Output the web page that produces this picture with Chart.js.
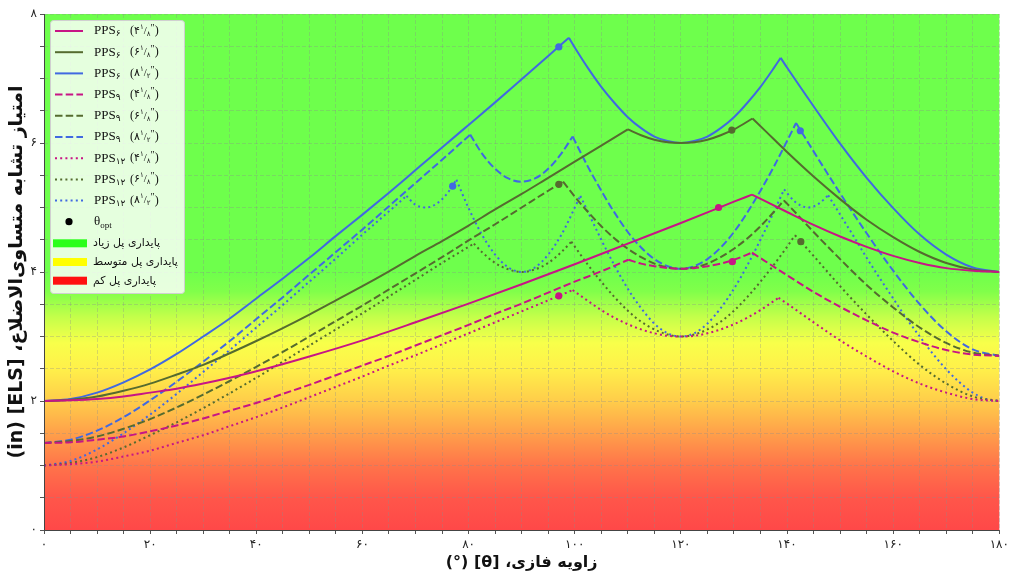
<!DOCTYPE html>
<html>
<head>
<meta charset="utf-8">
<script src="https://cdn.jsdelivr.net/npm/chart.js@4.4.0/dist/chart.umd.min.js"></script>
<style>
html,body{margin:0;padding:0;background:#fff;}
#c{display:block;}
</style>
</head>
<body>
<canvas id="c" width="1013" height="577" style="width:1013px;height:577px"></canvas>
<script>
// PPS6 (solid)
var theta6_41 = [0,5,10,15,20,25,30,35,40,50,60,70,80,90,100,110,120,130,133.4,140,145,150,155,160,165,170,175,180];
var els6_41   = [2.00,2.01,2.03,2.07,2.13,2.19,2.27,2.36,2.46,2.69,2.94,3.22,3.51,3.81,4.12,4.44,4.76,5.09,5.20,4.93,4.73,4.55,4.39,4.25,4.14,4.06,4.02,4.00];
var theta6_61 = [0,5,10,15,20,25,30,35,40,45,50,55,60,65,70,75,80,85,90,95,100,105,110,112.5,115,117.5,120,122.5,125,127.5,130,133.5,136,140,145,150,155,160,165,170,175,180];
var els6_61   = [2.00,2.02,2.07,2.16,2.27,2.41,2.56,2.74,2.93,3.13,3.34,3.56,3.78,4.01,4.25,4.48,4.72,4.97,5.21,5.46,5.71,5.96,6.21,6.12,6.05,6.01,6.00,6.01,6.05,6.12,6.21,6.38,6.18,5.86,5.48,5.13,4.81,4.54,4.31,4.14,4.04,4.00];
var theta6_81 = [0,5,10,15,20,25,30,35,40,45,50,55,60,65,70,75,80,85,90,95,98.9,100,102.5,105,107.5,110,112.5,115,117.5,120,122.5,125,127.5,130,132.5,135,137.5,138.8,140,145,150,155,160,165,170,175,180];
var els6_81   = [2.00,2.03,2.13,2.29,2.49,2.73,3.00,3.28,3.59,3.90,4.22,4.56,4.89,5.23,5.58,5.93,6.28,6.63,6.99,7.35,7.63,7.48,7.16,6.87,6.62,6.40,6.23,6.10,6.03,6.00,6.03,6.10,6.23,6.40,6.62,6.87,7.16,7.32,7.17,6.57,5.99,5.46,4.99,4.58,4.27,4.07,4.00];

// PPS9 (dashed)
var theta9_41 = [0,5,10,15,20,25,30,35,40,45,50,55,60,65,70,75,80,85,90,95,100,105,110.1,112.5,115,117.5,120,122.5,125,127.5,130,133.4,140,145,150,155,160,165,170,175,180];
var els9_41   = [1.35,1.36,1.40,1.45,1.53,1.62,1.73,1.85,1.97,2.11,2.25,2.40,2.55,2.70,2.86,3.02,3.18,3.35,3.51,3.68,3.85,4.01,4.19,4.13,4.09,4.06,4.05,4.06,4.09,4.13,4.19,4.30,3.95,3.69,3.46,3.25,3.06,2.91,2.79,2.72,2.70];
var theta9_61 = [0,5,10,15,20,25,30,35,40,45,50,55,60,65,70,75,80,85,90,95,97.8,100,102.5,105,107.5,110,112.5,115,117.5,120,122.5,125,127.5,130,132.5,135,137.5,139.4,140,145,150,155,160,165,170,175,180];
var els9_61   = [1.35,1.38,1.45,1.57,1.72,1.90,2.10,2.31,2.53,2.76,3.00,3.24,3.48,3.73,3.98,4.23,4.49,4.74,5.00,5.26,5.40,5.17,4.93,4.71,4.52,4.36,4.23,4.13,4.07,4.05,4.07,4.13,4.23,4.36,4.52,4.71,4.93,5.11,5.06,4.62,4.20,3.80,3.45,3.14,2.90,2.75,2.70];
var theta9_81 = [0,5,10,15,20,25,30,35,40,45,50,55,60,65,70,75,80.3,82.5,85,87.5,90,92.5,95,97.5,99.6,102.5,105,107.5,110,112.5,115,117.5,120,122.5,125,127.5,130,132.5,135,137.5,140,141.7,145,150,155,160,165,170,175,180];
var els9_81   = [1.35,1.40,1.54,1.75,2.01,2.30,2.61,2.93,3.27,3.61,3.96,4.31,4.66,5.02,5.38,5.74,6.13,5.84,5.60,5.45,5.40,5.45,5.60,5.84,6.10,5.63,5.26,4.92,4.62,4.38,4.20,4.09,4.05,4.09,4.20,4.38,4.62,4.92,5.26,5.63,6.03,6.31,5.87,5.22,4.60,4.02,3.50,3.08,2.80,2.70];

// PPS12 (dotted)
var theta12_41 = [0,5,10,15,20,25,30,35,40,45,50,55,60,65,70,75,80,85,90,95,99.6,102.5,105,107.5,110,112.5,115,117.5,120,122.5,125,127.5,130,132.5,135,138.4,140,145,150,155,160,165,170,175,180];
var els12_41   = [1.00,1.02,1.06,1.14,1.23,1.35,1.47,1.61,1.75,1.90,2.06,2.22,2.38,2.55,2.71,2.88,3.05,3.22,3.39,3.56,3.72,3.55,3.41,3.29,3.19,3.11,3.05,3.01,3.00,3.01,3.05,3.11,3.19,3.29,3.41,3.60,3.51,3.22,2.94,2.69,2.46,2.27,2.13,2.03,2.00];
var theta12_61 = [0,5,10,15,20,25,30,35,40,45,50,55,60,65,70,75,81,82.5,85,87.5,90,92.5,95,97.5,99.35,102.5,105,107.5,110,112.5,115,117.5,120,122.5,125,127.5,130,132.5,135,137.5,140,141.5,145,150,155,160,165,170,175,180];
var els12_61   = [1.00,1.04,1.13,1.28,1.47,1.67,1.89,2.12,2.36,2.61,2.86,3.11,3.36,3.62,3.88,4.14,4.44,4.31,4.14,4.04,4.00,4.04,4.14,4.31,4.47,4.11,3.85,3.61,3.40,3.23,3.11,3.03,3.00,3.03,3.11,3.23,3.40,3.61,3.85,4.11,4.39,4.57,4.25,3.78,3.34,2.93,2.56,2.27,2.07,2.00];
var theta12_81 = [0,5,10,15,20,25,30,35,40,45,50,55,60,65,68.3,70,72,74,76,77.7,80,82.5,85,87.5,90,92.5,95,97.5,101.05,102.5,105,107.5,110,112.5,115,117.5,120,122.5,125,127.5,130,132.5,135,137.5,139.45,141.5,144,146,147.75,150,152.5,155,157.5,160,162.5,165,167.5,170,172.5,175,177.5,180];
var els12_81   = [1.00,1.07,1.25,1.50,1.79,2.11,2.45,2.79,3.14,3.49,3.85,4.21,4.58,4.94,5.18,5.04,5.00,5.06,5.22,5.43,4.99,4.58,4.27,4.07,4.00,4.07,4.27,4.58,5.18,4.93,4.50,4.10,3.74,3.44,3.20,3.05,3.00,3.05,3.20,3.44,3.74,4.10,4.50,4.93,5.28,5.09,5.00,5.06,5.19,4.89,4.56,4.22,3.90,3.59,3.28,3.00,2.73,2.49,2.29,2.13,2.03,2.00];

// θopt نقاط بهینه (به ترتیب سری‌ها)
var optTheta = [127.1, 129.6, 97.0, 129.7, 97.0, 142.5, 97.0, 142.6, 77.0];
var optEls   = [5.00, 6.20, 7.49, 4.16, 5.36, 6.19, 3.63, 4.47, 5.33];

// محورها
var xTicks = [0,20,40,60,80,100,120,140,160,180];
var yTicks = [0,2,4,6,8];

var PINK = '#c71585', OLIVE = '#556b2f', BLUE = '#4169e1';
var DASHED = [7.5,3.2], DOTTED = [2,3.2];

var series = [
  {t: theta6_41,  v: els6_41,  c: PINK,  d: [],     n: '۶',  w: '۴', den: '۸'},
  {t: theta6_61,  v: els6_61,  c: OLIVE, d: [],     n: '۶',  w: '۶', den: '۸'},
  {t: theta6_81,  v: els6_81,  c: BLUE,  d: [],     n: '۶',  w: '۸', den: '۲'},
  {t: theta9_41,  v: els9_41,  c: PINK,  d: DASHED, n: '۹',  w: '۴', den: '۸'},
  {t: theta9_61,  v: els9_61,  c: OLIVE, d: DASHED, n: '۹',  w: '۶', den: '۸'},
  {t: theta9_81,  v: els9_81,  c: BLUE,  d: DASHED, n: '۹',  w: '۸', den: '۲'},
  {t: theta12_41, v: els12_41, c: PINK,  d: DOTTED, n: '۱۲', w: '۴', den: '۸'},
  {t: theta12_61, v: els12_61, c: OLIVE, d: DOTTED, n: '۱۲', w: '۶', den: '۸'},
  {t: theta12_81, v: els12_81, c: BLUE,  d: DOTTED, n: '۱۲', w: '۸', den: '۲'}
];

function fa(n){ return String(n).replace(/\d/g, function(d){ return '۰۱۲۳۴۵۶۷۸۹'[d]; }); }

// break each curve at its sharp peaks so the smooth parts can be drawn curved
function pieces(t, v){
  var out = [], cur = [{x: t[0], y: v[0]}];
  for (var i = 1; i < t.length; i++) {
    cur.push({x: t[i], y: v[i]});
    if (i < t.length - 1 && v[i] > v[i-1] && v[i] >= v[i+1]) {
      out.push(cur);
      cur = [{x: t[i], y: v[i]}];
    }
  }
  out.push(cur);
  return out;
}

var datasets = [];
series.forEach(function(s){
  pieces(s.t, s.v).forEach(function(p){
    datasets.push({
      label: 'PPS' + s.n,
      data: p,
      borderColor: s.c, borderWidth: 2, borderDash: s.d,
      pointRadius: 0, fill: false,
      cubicInterpolationMode: 'monotone'
    });
  });
});
datasets.push({
  label: 'θopt',
  data: optTheta.map(function(x,i){ return {x: x, y: optEls[i]}; }),
  showLine: false, pointRadius: 3.6, pointBorderWidth: 0,
  pointBackgroundColor: series.map(function(s){ return s.c; }),
  order: -1
});

// پس زمینه رنگی (قرمز - زرد - سبز)
var bgStops = [[0,'rgb(255,72,72)'],[0.5,'rgb(255,86,74)'],[1.0,'rgb(255,116,74)'],[1.5,'rgb(255,160,74)'],
  [2.0,'rgb(255,205,74)'],[2.5,'rgb(255,240,74)'],[2.9,'rgb(248,255,74)'],[3.3,'rgb(196,255,74)'],
  [3.7,'rgb(128,255,74)'],[4.0,'rgb(110,255,76)'],[8,'rgb(110,255,76)']];

var bgPlugin = {
  id: 'bg',
  beforeDraw: function(chart){
    var ctx = chart.ctx, a = chart.chartArea;
    var g = ctx.createLinearGradient(0, a.bottom, 0, a.top);
    bgStops.forEach(function(s){ g.addColorStop(s[0]/8, s[1]); });
    ctx.save();
    ctx.fillStyle = g;
    ctx.fillRect(a.left, a.top, a.right - a.left, a.bottom - a.top);
    ctx.restore();
  }
};

function labelRun(ctx, x, y, parts){
  var cx = x;
  parts.forEach(function(p){
    ctx.font = p[1] + "px 'Liberation Serif', 'DejaVu Sans'";
    ctx.fillText(p[0], cx, y + p[2]);
    cx += ctx.measureText(p[0]).width;
  });
  return cx;
}

var framePlugin = {
  id: 'frame',
  afterDraw: function(chart){
    var ctx = chart.ctx, a = chart.chartArea;
    ctx.save();
    // axis lines
    ctx.strokeStyle = '#444'; ctx.lineWidth = 1;
    ctx.beginPath();
    ctx.moveTo(a.left + 0.5, a.top); ctx.lineTo(a.left + 0.5, a.bottom + 0.5);
    ctx.lineTo(a.right, a.bottom + 0.5);
    ctx.stroke();

    // titles
    ctx.fillStyle = '#111';
    ctx.textAlign = 'center'; ctx.textBaseline = 'middle';
    ctx.direction = 'rtl';
    ctx.font = "bold 16px 'DejaVu Sans'";
    ctx.fillText('زاویه فازی، [θ] (°)', (a.left + a.right)/2, 563);
    ctx.save();
    ctx.translate(17, (a.top + a.bottom)/2);
    ctx.rotate(-Math.PI/2);
    ctx.font = "bold 19px 'DejaVu Sans'";
    ctx.fillText('امتیاز تشابه متساوی‌الاضلاع، [ELS] (in)', 0, 0);
    ctx.restore();
    ctx.direction = 'ltr';

    // legend box
    var bx = 50, by = 20, bw = 134, bh = 273;
    ctx.beginPath();
    ctx.roundRect(bx + 0.5, by + 0.5, bw, bh, 3);
    ctx.fillStyle = 'rgba(255,255,255,0.82)';
    ctx.fill();
    ctx.strokeStyle = '#d0d0d0';
    ctx.stroke();

    ctx.textAlign = 'left'; ctx.textBaseline = 'middle';
    series.forEach(function(s, i){
      var y = 31 + i*21.2;
      ctx.strokeStyle = s.c; ctx.lineWidth = 2; ctx.setLineDash(s.d);
      ctx.beginPath(); ctx.moveTo(55, y); ctx.lineTo(83, y); ctx.stroke();
      ctx.setLineDash([]);
      ctx.fillStyle = '#111';
      labelRun(ctx, 94, y, [['PPS', 13, 0], [s.n, 9, 3]]);
      labelRun(ctx, 130, y, [['(', 12, 0], [s.w, 11, 0], ['۱', 7, -4], ['/', 11, 0], [s.den, 7, 3], ['″', 10, -3], [')', 12, 0]]);
    });
    // θopt
    var yo = 221.7;
    ctx.fillStyle = '#000';
    ctx.beginPath(); ctx.arc(69, yo, 3.6, 0, Math.PI*2); ctx.fill();
    ctx.fillStyle = '#111';
    labelRun(ctx, 94, yo, [['θ', 13, 0], ['opt', 9, 4]]);

    // stability patches
    var patches = [['پایداری پل زیاد', '#2bff1a', 243.3], ['پایداری پل متوسط', '#ffff00', 262], ['پایداری پل کم', '#ff1010', 280.7]];
    ctx.font = "13px 'DejaVu Sans'";
    var fs = Math.max(9, Math.min(13.5, 13 * 85 / ctx.measureText(patches[1][0]).width));
    patches.forEach(function(p){
      ctx.fillStyle = p[1];
      ctx.fillRect(53, p[2] - 4, 34, 8);
      ctx.fillStyle = '#111';
      ctx.direction = 'rtl'; ctx.textAlign = 'left';
      ctx.font = fs + "px 'DejaVu Sans'";
      ctx.fillText(p[0], 93, p[2]);
      ctx.direction = 'ltr';
    });
    ctx.restore();
  }
};

Chart.defaults.font.family = "'DejaVu Sans'";
var chart = new Chart(document.getElementById('c').getContext('2d'), {
  type: 'line',
  data: { datasets: datasets },
  options: {
    responsive: false,
    animation: false,
    layout: { padding: { top: 14, right: 10, left: 0, bottom: 0 } },
    plugins: { legend: { display: false }, tooltip: { enabled: false } },
    scales: {
      x: {
        type: 'linear', min: 0, max: 180,
        afterFit: function(s){ s.height = 47; },
        ticks: {
          stepSize: 5, autoSkip: false, maxRotation: 0, padding: 4, color: '#222',
          font: { size: 12 },
          callback: function(v){ return xTicks.indexOf(v) >= 0 ? fa(v) : ''; }
        },
        grid: { color: 'rgba(140,140,140,0.32)', tickLength: 4, tickColor: '#555' },
        border: { display: false, dash: [4,2] }
      },
      y: {
        min: 0, max: 8,
        afterFit: function(s){ s.width = 44; },
        ticks: {
          stepSize: 0.5, autoSkip: false, padding: 3, color: '#222',
          font: { size: 12 },
          callback: function(v){ return yTicks.indexOf(v) >= 0 ? fa(v) : ''; }
        },
        grid: { color: 'rgba(140,140,140,0.32)', tickLength: 4, tickColor: '#555' },
        border: { display: false, dash: [4,2] }
      }
    }
  },
  plugins: [bgPlugin, framePlugin]
});
</script>
</body>
</html>
